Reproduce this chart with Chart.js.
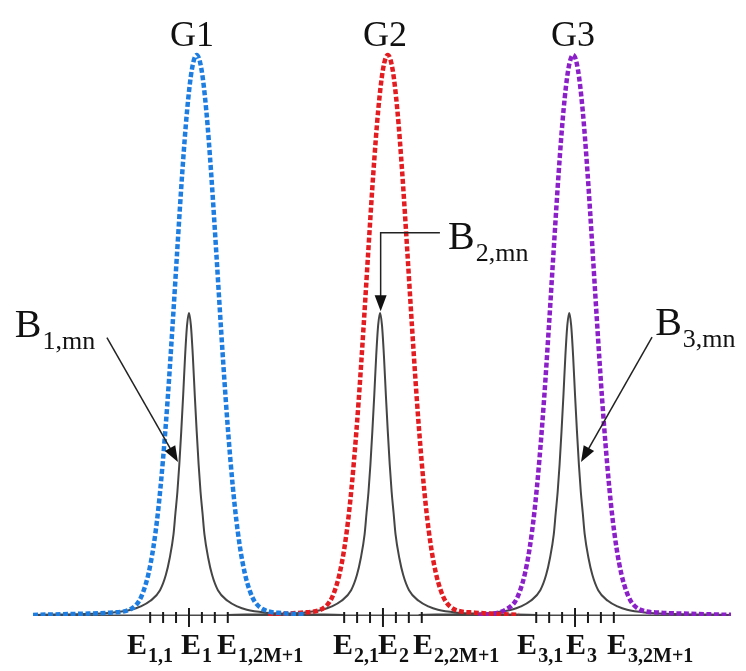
<!DOCTYPE html>
<html><head><meta charset="utf-8">
<script src="https://cdn.jsdelivr.net/npm/chart.js@4.4.1/dist/chart.umd.min.js"></script>
<style>html,body{margin:0;padding:0;background:#fff;}canvas{display:block;}</style>
</head><body>
<canvas id="c" width="746" height="671"></canvas>
<script>
// ---- Data (energy axis in arbitrary units, intensity normalised) ----
const g1X = [1.92, 4.4, 5.9, 6.9, 7.4, 7.65, 7.9, 8.15, 8.4, 8.65, 8.9, 9.15, 9.4, 9.65, 9.9, 10.15, 10.4, 10.65, 10.9, 11.15, 11.4, 11.65, 11.9, 12.15, 12.4, 12.65, 12.9, 13.15, 13.4, 13.9, 14.9, 16.0];
const g1Y = [0.002, 0.004, 0.006, 0.011, 0.026, 0.045, 0.075, 0.121, 0.187, 0.277, 0.388, 0.518, 0.656, 0.789, 0.900, 0.974, 1.0, 0.974, 0.900, 0.789, 0.656, 0.518, 0.388, 0.277, 0.187, 0.121, 0.075, 0.045, 0.026, 0.011, 0.005, 0.003];
const g2X = [14.1, 15.8, 16.8, 17.3, 17.55, 17.8, 18.05, 18.3, 18.55, 18.8, 19.05, 19.3, 19.55, 19.8, 20.05, 20.3, 20.55, 20.8, 21.05, 21.3, 21.55, 21.8, 22.05, 22.3, 22.55, 22.8, 23.05, 23.3, 23.8, 24.8, 27.1];
const g2Y = [0.002, 0.006, 0.011, 0.026, 0.045, 0.075, 0.121, 0.187, 0.277, 0.388, 0.518, 0.656, 0.789, 0.900, 0.974, 1.0, 0.974, 0.900, 0.789, 0.656, 0.518, 0.388, 0.277, 0.187, 0.121, 0.075, 0.045, 0.026, 0.011, 0.006, 0.002];
const g3X = [25.0, 25.9, 26.4, 26.9, 27.15, 27.4, 27.65, 27.9, 28.15, 28.4, 28.65, 28.9, 29.15, 29.4, 29.65, 29.9, 30.15, 30.4, 30.65, 30.9, 31.15, 31.4, 31.65, 31.9, 32.15, 32.4, 32.65, 32.9, 33.4, 34.4, 35.9, 38.08];
const g3Y = [0.002, 0.005, 0.011, 0.026, 0.045, 0.075, 0.121, 0.187, 0.277, 0.388, 0.518, 0.656, 0.789, 0.900, 0.974, 1.0, 0.974, 0.900, 0.789, 0.656, 0.518, 0.388, 0.277, 0.187, 0.121, 0.075, 0.045, 0.026, 0.011, 0.006, 0.004, 0.002];

const b1X = [1.92, 5, 6, 7, 7.5, 8, 8.5, 8.8, 9, 9.2, 9.3, 9.4, 9.5, 9.6, 9.7, 9.8, 9.9, 10, 10.1, 10.2, 10.3, 10.4, 10.5, 10.6, 10.7, 10.8, 11, 11.2, 11.5, 12, 12.5, 13, 14, 15, 18];
const b2X = [12, 14.9, 15.9, 16.9, 17.4, 17.9, 18.4, 18.7, 18.9, 19.1, 19.2, 19.3, 19.4, 19.5, 19.6, 19.7, 19.8, 19.9, 20.0, 20.1, 20.2, 20.3, 20.4, 20.5, 20.6, 20.7, 20.9, 21.1, 21.4, 21.9, 22.4, 22.9, 23.9, 24.9, 28];
const b3X = [21.9, 24.7, 25.7, 26.7, 27.2, 27.7, 28.2, 28.5, 28.7, 28.9, 29.0, 29.1, 29.2, 29.3, 29.4, 29.5, 29.6, 29.7, 29.8, 29.9, 30.0, 30.1, 30.2, 30.3, 30.4, 30.5, 30.7, 30.9, 31.2, 31.7, 32.2, 32.7, 33.7, 34.7, 38.08];
const b1Y = [0.002, 0.004, 0.006, 0.011, 0.017, 0.027, 0.046, 0.073, 0.103, 0.146, 0.184, 0.221, 0.270, 0.329, 0.394, 0.464, 0.518, 0.540, 0.518, 0.464, 0.394, 0.329, 0.270, 0.221, 0.184, 0.146, 0.103, 0.073, 0.046, 0.027, 0.017, 0.011, 0.006, 0.004, 0.002];
const b2Y = [0.002, 0.004, 0.006, 0.011, 0.017, 0.027, 0.046, 0.073, 0.103, 0.146, 0.184, 0.221, 0.270, 0.329, 0.394, 0.464, 0.518, 0.540, 0.518, 0.464, 0.394, 0.329, 0.270, 0.221, 0.184, 0.146, 0.103, 0.073, 0.046, 0.027, 0.017, 0.011, 0.006, 0.004, 0.002];
const b3Y = [0.002, 0.004, 0.006, 0.011, 0.017, 0.027, 0.046, 0.073, 0.103, 0.146, 0.184, 0.221, 0.270, 0.329, 0.394, 0.464, 0.518, 0.540, 0.518, 0.464, 0.394, 0.329, 0.270, 0.221, 0.184, 0.146, 0.103, 0.073, 0.046, 0.027, 0.017, 0.011, 0.006, 0.004, 0.002];

const axisX = [2.05, 37.95];
const axisY = [0, 0];

const ticksMajor = [10.0, 20.05, 30.0];
const ticksMinor = [7.99, 8.66, 9.33, 10.67, 11.34, 12.01, 18.04, 18.71, 19.38, 20.72, 21.39, 22.06, 27.99, 28.66, 29.33, 30.67, 31.34, 32.01];

const peakNames = ['G1', 'G2', 'G3'];
const bandMain = ['B', 'B', 'B'];
const bandSubs = ['1,mn', '2,mn', '3,mn'];
const eMain = ['E', 'E', 'E', 'E', 'E', 'E', 'E', 'E', 'E'];
const eSubs = ['1,1', '1', '1,2M+1', '2,1', '2', '2,2M+1', '3,1', '3', '3,2M+1'];

// ---- Layout of annotations (data coordinates) ----
const layoutPos = {
  peakX: [10.16, 20.16, 29.9], peakY: 1.016,
  bandX: [0.98, 23.42, 34.15], bandY: [0.497, 0.654, 0.501],
  eX: [6.79, 9.59, 11.45, 17.46, 19.79, 21.61, 27.0, 29.53, 31.66], eY: -0.068,
  arrows: [
    [[5.75, 0.496], [9.43, 0.2745]],
    [[23.0, 0.683], [19.93, 0.683], [19.93, 0.543]],
    [[33.99, 0.497], [30.31, 0.2745]]
  ]
};

const pts = (xs, ys) => xs.map((x, i) => ({x: x, y: ys[i]}));

function gaussDs(xs, ys, color) {
  return {data: pts(xs, ys), borderColor: color, borderWidth: 4.5, borderDash: [5, 2.5],
    pointRadius: 0, fill: false, cubicInterpolationMode: 'monotone', borderCapStyle: 'butt'};
}
function bandDs(xs, ys) {
  return {data: pts(xs, ys), borderColor: '#454545', borderWidth: 2,
    pointRadius: 0, fill: false, cubicInterpolationMode: 'monotone'};
}

function drawSub(ctx, x, y, main, sub, mf, sf, dy) {
  ctx.font = mf; ctx.fillText(main, x, y);
  const w = ctx.measureText(main).width;
  ctx.font = sf; ctx.fillText(sub, x + w + 1, y + dy);
}

const annot = {
  id: 'annot',
  afterDatasetsDraw(chart) {
    const ctx = chart.ctx, sx = chart.scales.x, sy = chart.scales.y;
    const px = v => sx.getPixelForValue(v), py = v => sy.getPixelForValue(v);
    ctx.save();
    // tick marks on the energy axis
    ctx.strokeStyle = '#1a1a1a'; ctx.lineWidth = 2;
    const y0 = py(0);
    ticksMinor.forEach(t => { const x = px(t); ctx.beginPath(); ctx.moveTo(x, y0 - 4); ctx.lineTo(x, y0 + 7); ctx.stroke(); });
    ticksMajor.forEach(t => { const x = px(t); ctx.beginPath(); ctx.moveTo(x, y0 - 8); ctx.lineTo(x, y0 + 11); ctx.stroke(); });

    ctx.fillStyle = '#111'; ctx.textBaseline = 'alphabetic';
    // peak names
    ctx.textAlign = 'center'; ctx.font = '36px "Liberation Serif"';
    peakNames.forEach((n, i) => ctx.fillText(n, px(layoutPos.peakX[i]), py(layoutPos.peakY)));
    ctx.textAlign = 'left';
    // band labels
    bandSubs.forEach((s, i) => drawSub(ctx, px(layoutPos.bandX[i]), py(layoutPos.bandY[i]), bandMain[i], s,
      '40px "Liberation Serif"', '26px "Liberation Serif"', 12));
    // energy labels
    eSubs.forEach((s, i) => drawSub(ctx, px(layoutPos.eX[i]), py(layoutPos.eY), eMain[i], s,
      'bold 30px "Liberation Serif"', 'bold 20px "Liberation Serif"', 8));

    // arrows
    ctx.strokeStyle = '#222'; ctx.fillStyle = '#111'; ctx.lineWidth = 1.5;
    layoutPos.arrows.forEach(a => {
      const p = a.map(q => [px(q[0]), py(q[1])]);
      const [x1, y1] = p[p.length - 2], [x2, y2] = p[p.length - 1];
      const ang = Math.atan2(y2 - y1, x2 - x1), hl = 16, hw = 6;
      ctx.beginPath(); ctx.moveTo(p[0][0], p[0][1]);
      for (let i = 1; i < p.length - 1; i++) ctx.lineTo(p[i][0], p[i][1]);
      ctx.lineTo(x2 - hl * 0.8 * Math.cos(ang), y2 - hl * 0.8 * Math.sin(ang));
      ctx.stroke();
      ctx.beginPath(); ctx.moveTo(x2, y2);
      ctx.lineTo(x2 - hl * Math.cos(ang) + hw * Math.sin(ang), y2 - hl * Math.sin(ang) - hw * Math.cos(ang));
      ctx.lineTo(x2 - hl * Math.cos(ang) - hw * Math.sin(ang), y2 - hl * Math.sin(ang) + hw * Math.cos(ang));
      ctx.closePath(); ctx.fill();
    });
    ctx.restore();
  }
};

new Chart(document.getElementById('c'), {
  type: 'line',
  data: {
    datasets: [
      gaussDs(g1X, g1Y, 'rgb(30,125,225)'),
      gaussDs(g2X, g2Y, 'rgb(226,28,32)'),
      gaussDs(g3X, g3Y, 'rgb(140,32,200)'),
      bandDs(b1X, b1Y),
      bandDs(b2X, b2Y),
      bandDs(b3X, b3Y),
      {data: pts(axisX, axisY), borderColor: '#4a4a4a', borderWidth: 3, pointRadius: 0, fill: false}
    ]
  },
  options: {
    responsive: false, animation: false,
    layout: {padding: {left: 33, right: 15, top: 0, bottom: 55}},
    plugins: {legend: {display: false}, tooltip: {enabled: false}},
    scales: {
      x: {type: 'linear', min: 1.92, max: 38.08, display: false},
      y: {type: 'linear', min: 0, max: 1.098, display: false}
    }
  },
  plugins: [annot]
});
</script>
</body></html>
